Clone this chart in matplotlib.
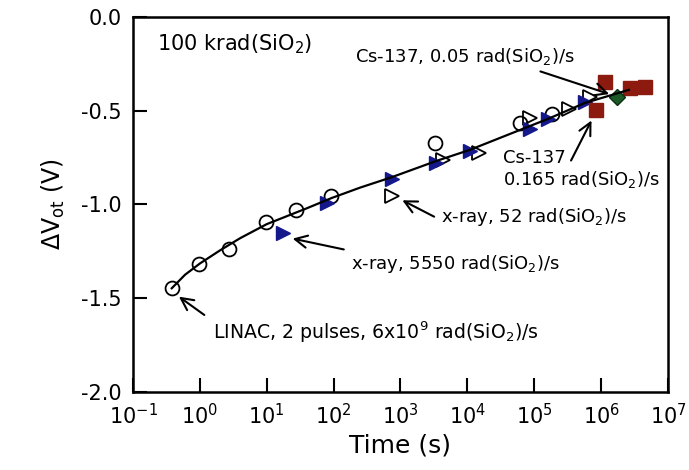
import matplotlib
matplotlib.use("Agg")
import matplotlib.pyplot as plt

# LINAC, 2 pulses (open circles)
linac_t = [0.38, 0.97, 2.75, 9.6, 27.3, 93, 3270, 61000, 1.83e5]
linac_v = [-1.447, -1.317, -1.237, -1.095, -1.029, -0.953, -0.672, -0.567, -0.520]

# x-ray, 5550 rad/s (filled blue triangles)
xhi_t = [17.7, 78.6, 736, 3440, 10900, 85900, 1.6e5, 5.7e5]
xhi_v = [-1.150, -0.994, -0.866, -0.780, -0.717, -0.597, -0.544, -0.452]

# x-ray, 52 rad/s (open triangles)
xlo_t = [736, 4350, 14860, 85900, 3.29e5, 6.78e5]
xlo_v = [-0.955, -0.763, -0.727, -0.541, -0.491, -0.427]

# Cs-137 (red squares, green diamond)
cs_t = [1.14e6, 8.3e5, 2.69e6, 4.5e6]
cs_v = [-0.347, -0.496, -0.381, -0.376]
cs2_t = [1.72e6]
cs2_v = [-0.429]

# fitted curve
fit_t = [0.38, 0.6, 1.0, 2.0, 4.0, 10, 17.7, 40, 93, 250, 736, 3440, 10900, 61000, 1.6e5, 5.7e5, 2.6e6]
fit_v = [-1.447, -1.375, -1.315, -1.245, -1.180, -1.105, -1.070, -1.020, -0.966, -0.910,
         -0.855, -0.768, -0.709, -0.603, -0.544, -0.459, -0.389]

xticks = [10.0**k for k in range(-1, 8)]
xlabels = ["$10^{%d}$" % k for k in range(-1, 8)]
yticks = [0.0, -0.5, -1.0, -1.5, -2.0]

fig = plt.figure(figsize=(6.89, 4.70), dpi=100)
ax = fig.add_axes([0.193, 0.166, 0.7765, 0.798])

ax.plot(linac_t, linac_v, 'o', ms=10, mfc='none', mec='black', mew=1.3, zorder=2)
ax.plot(xlo_t, xlo_v, '>', ms=9.5, mfc='none', mec='black', mew=1.3, zorder=2)
ax.plot(xhi_t, xhi_v, '>', ms=9.5, mfc='#14188a', mec='#14188a', zorder=2)
ax.plot(cs_t, cs_v, 's', ms=10, mfc='#8c1a0e', mec='#8c1a0e', zorder=2)
ax.plot(cs2_t, cs2_v, 'D', ms=8, mfc='#1b5a26', mec='#0e2e12', zorder=2)
ax.plot(fit_t, fit_v, '-', color='black', lw=1.6, zorder=3)

ax.set_xscale('log')
ax.set_xlim(0.1, 1e7)
ax.set_ylim(-2.0, 0.0)
ax.set_xticks(xticks)
ax.set_xticklabels(xlabels)
ax.minorticks_off()
ax.set_yticks(yticks)
ax.set_yticklabels(["%.1f" % v for v in yticks])
ax.tick_params(direction='in', length=10, width=1.5, labelsize=15, pad=8)
for s in ax.spines.values():
    s.set_linewidth(1.8)

ax.set_xlabel("Time (s)", fontsize=18, labelpad=4)
ax.set_ylabel(r"$\Delta$V$_{\rm ot}$ (V)", fontsize=17, labelpad=10)

fs = 13
arrow = dict(arrowstyle='->', color='black', lw=1.5, mutation_scale=22)
ax.text(0.229, -0.144, "100 krad(SiO$_2$)", fontsize=15, va='center')
ax.text(208, -0.213, "Cs-137, 0.05 rad(SiO$_2$)/s", fontsize=fs, va='center')
ax.annotate("", xy=(1.45e6, -0.416), xytext=(1.13e5, -0.286), arrowprops=arrow)
ax.text(3.4e4, -0.815, "Cs-137\n0.165 rad(SiO$_2$)/s", fontsize=fs, va='center', linespacing=1.15)
ax.annotate("", xy=(7.5e5, -0.539), xytext=(3.4e5, -0.779), arrowprops=arrow)
ax.text(4020, -1.067, "x-ray, 52 rad(SiO$_2$)/s", fontsize=fs, va='center')
ax.annotate("", xy=(979, -0.971), xytext=(3467, -1.072), arrowprops=arrow)
ax.text(181, -1.317, "x-ray, 5550 rad(SiO$_2$)/s", fontsize=fs, va='center')
ax.annotate("", xy=(22.2, -1.179), xytext=(156, -1.243), arrowprops=arrow)
ax.text(1.57, -1.68, "LINAC, 2 pulses, 6x10$^9$ rad(SiO$_2$)/s", fontsize=13.6, va='center')
ax.annotate("", xy=(0.45, -1.483), xytext=(1.26, -1.598), arrowprops=arrow)

fig.savefig("out.png", dpi=100)
